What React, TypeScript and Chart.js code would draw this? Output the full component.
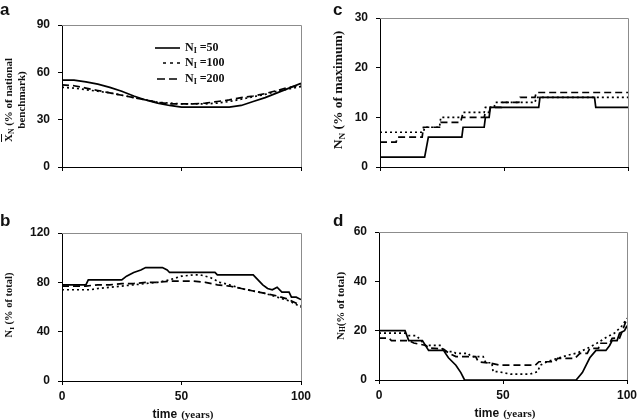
import React, { useEffect, useRef } from "react";
import { Chart, registerables } from "chart.js";
Chart.register(...registerables);

// ---------- shared ----------
const X_TICKS = [0, 50, 100];
const LEGEND_LABELS = ["=50", "=100", "=200"];

// ---------- panel a : X_N (% of national benchmark) ----------
const aTime = [0, 5, 10, 15, 20, 25, 30, 35, 40, 45, 50, 55, 60, 65, 70, 75, 80, 85, 90, 95, 100];
const aN50 = [55, 55, 54, 52.5, 50.5, 48, 45, 42.5, 40.5, 39, 38, 38, 38, 38, 38, 39, 41.5, 44, 47, 50, 53];
const aN100 = [50.5, 50, 49, 48, 47, 45.5, 44, 42.5, 41, 40.5, 40, 40, 40, 40.5, 41.5, 43, 44.5, 46, 48, 49.5, 51];
const aN200 = [52, 51.5, 50, 48.5, 47, 45.5, 44, 42.5, 41, 40, 40, 40, 40.5, 41.5, 42.5, 44, 45, 46.5, 48.5, 50.5, 52];

// ---------- panel b : N_I (% of total) ----------
const bN50T = [0, 10, 11, 25, 27, 30, 33, 35, 42, 44, 45, 64, 65, 80, 82, 84, 86, 88, 90, 92, 95, 96, 98, 100];
const bN50 = [78, 78, 82, 82, 85, 88, 90, 92, 92, 90, 88, 88, 86, 86, 82, 78, 75, 74, 76, 72, 72, 68, 68, 66];
const bN100T = [0, 12, 15, 20, 25, 30, 35, 40, 45, 50, 55, 58, 62, 66, 70, 75, 80, 85, 90, 95, 100];
const bN100 = [74, 74, 75, 76, 77, 78, 79, 80, 82, 85, 86, 86, 84, 80, 78, 75, 73, 71, 68, 65, 60];
const bN200T = [0, 10, 15, 20, 25, 30, 35, 40, 45, 50, 55, 60, 65, 70, 75, 80, 85, 90, 95, 100];
const bN200 = [77, 77, 78, 78, 79, 79, 80, 80, 81, 81, 81, 80, 78, 77, 75, 73, 71, 69, 66, 61];

// ---------- panel c : N_N (% of maximum) ----------
const cN50T = [0, 18, 19.5, 33, 33.5, 42, 42.5, 44, 44.5, 64, 64.5, 86.5, 87, 100];
const cN50 = [2, 2, 6, 6, 8, 8, 10, 10, 12, 12, 14, 14, 12, 12];
const cN100T = [0, 17.5, 18, 24, 24.5, 33, 33.5, 42, 42.5, 46, 46.5, 62.5, 63, 100];
const cN100 = [7, 7, 8, 8, 10, 10, 11, 11, 12, 12, 13, 13, 14, 14];
const cN200T = [0, 6.5, 7, 17, 17.5, 24, 24.5, 32.5, 33, 42, 42.5, 44, 44.5, 49, 49.5, 56, 56.5, 62.5, 63, 100];
const cN200 = [5, 5, 6, 6, 8, 8, 9, 9, 10, 10, 11, 11, 12, 12, 13, 13, 14, 14, 15, 15];

// ---------- panel d : N_H (% of total) ----------
const dN50T = [0, 10.5, 12, 17.5, 20, 26, 28, 31, 33, 34.5, 79.5, 82, 85, 87.5, 91.5, 93, 94, 96, 97, 99, 100];
const dN50 = [20, 20, 16, 16, 12, 12, 9, 6, 3, 0, 0, 3, 9, 12, 12, 14, 16, 16, 19, 20, 22];
const dN100T = [0, 10.5, 12, 15, 17, 18.5, 25, 26, 30, 31, 36, 37, 42, 43, 45.5, 46, 48, 53, 61, 64, 65, 68, 72, 76, 80, 84, 88, 92, 95, 98, 100];
const dN100 = [19, 19, 18, 18, 16, 14, 14, 11.5, 11.5, 10.8, 10.8, 9.5, 9.5, 7, 7, 3.4, 3.4, 2.4, 2.4, 3.4, 6, 7.5, 8.8, 10, 11, 12.8, 15, 17.5, 19, 22, 25];
const dN200T = [0, 4, 5, 12, 14, 19, 20, 26, 28, 31, 39, 40, 45, 49, 63, 64.5, 71, 72, 79, 81, 84, 85, 88.5, 89, 93, 94, 97, 98, 100];
const dN200 = [17, 17, 16, 16, 15, 14, 13, 12.5, 11, 9.5, 9.5, 7.4, 6.8, 6, 6, 7.4, 7.4, 8.8, 8.8, 10.8, 10.8, 12.8, 12.8, 14.9, 14.9, 16.9, 17, 19.6, 25];

type Style = "solid" | "dot" | "dash";
type Series = { t: number[]; y: number[]; style: Style };

const DASHES: Record<Style, number[]> = { solid: [], dot: [2, 3], dash: [7, 4] };
const LEGEND_DASHES: Record<Style, number[]> = { solid: [], dot: [3, 4], dash: [8, 4] };
const INK = "#111";
const TICK_FONT = { family: "'Liberation Sans', Arial, sans-serif", size: 12, weight: "bold" as const };

const framePlugin = {
  id: "frame",
  afterDraw(chart: any) {
    const { ctx, chartArea } = chart;
    const { left, top, right, bottom } = chartArea;
    ctx.save();
    ctx.strokeStyle = "#8c8c8c";
    ctx.lineWidth = 1;
    ctx.setLineDash([]);
    ctx.beginPath();
    ctx.moveTo(left, Math.round(top) + 0.5);
    ctx.lineTo(Math.round(right) + 0.5, Math.round(top) + 0.5);
    ctx.lineTo(Math.round(right) + 0.5, bottom);
    ctx.stroke();
    ctx.restore();
  },
};

const legendPlugin = {
  id: "subLegend",
  afterDraw(chart: any) {
    const ctx = chart.ctx;
    const rows: { style: Style; x0: number; y: number }[] = [
      { style: "solid", x0: 155, y: 48 },
      { style: "dot", x0: 163, y: 63 },
      { style: "dash", x0: 157, y: 79 },
    ];
    ctx.save();
    rows.forEach((r, i) => {
      ctx.strokeStyle = "#000";
      ctx.lineWidth = 1.6;
      ctx.setLineDash(LEGEND_DASHES[r.style]);
      ctx.beginPath();
      ctx.moveTo(r.x0, r.y);
      ctx.lineTo(180, r.y);
      ctx.stroke();
      ctx.setLineDash([]);
      ctx.fillStyle = INK;
      ctx.textBaseline = "middle";
      let x = 185;
      ctx.font = "bold 12px 'Liberation Serif', serif";
      ctx.fillText("N", x, r.y);
      x += ctx.measureText("N").width;
      ctx.font = "bold 8px 'Liberation Serif', serif";
      ctx.fillText("I", x, r.y + 3);
      x += ctx.measureText("I").width;
      ctx.font = "bold 12px 'Liberation Serif', serif";
      ctx.fillText(" " + LEGEND_LABELS[i], x, r.y);
    });
    ctx.restore();
  },
};

type PanelProps = {
  box: { left: number; top: number; width: number; height: number };
  area: { left: number; top: number; right: number; bottom: number };
  yMax: number;
  yStep: number;
  showX: boolean;
  series: Series[];
  legend?: boolean;
};

function Panel({ box, area, yMax, yStep, showX, series, legend }: PanelProps) {
  const ref = useRef<HTMLCanvasElement | null>(null);
  useEffect(() => {
    if (!ref.current) return;
    const yW = area.left - box.left;
    const xH = box.top + box.height - area.bottom;
    const padTop = area.top - box.top;
    const padRight = box.left + box.width - area.right;
    const chart = new Chart(ref.current, {
      type: "line",
      data: {
        datasets: series.map((s) => ({
          data: s.t.map((t, i) => ({ x: t, y: s.y[i] })),
          borderColor: "#000",
          borderWidth: 1.7,
          borderDash: DASHES[s.style],
          pointRadius: 0,
          tension: 0,
          fill: false,
        })),
      },
      options: {
        animation: false,
        responsive: false,
        maintainAspectRatio: false,
        layout: { padding: { top: padTop, right: padRight, left: 0, bottom: 0 } },
        plugins: { legend: { display: false }, tooltip: { enabled: false } },
        scales: {
          x: {
            type: "linear",
            min: 0,
            max: 100,
            afterBuildTicks: (s: any) => {
              s.ticks = X_TICKS.map((v) => ({ value: v }));
            },
            ticks: { display: showX, font: TICK_FONT, color: INK, padding: 4, maxRotation: 0 },
            grid: { drawOnChartArea: false, drawTicks: true, tickLength: 4, color: "#000", lineWidth: 1 },
            border: { display: true, color: "#000", width: 1 },
            afterFit: (s: any) => {
              s.height = xH;
              s.paddingLeft = 0;
              s.paddingRight = 0;
            },
          },
          y: {
            type: "linear",
            min: 0,
            max: yMax,
            ticks: { stepSize: yStep, font: TICK_FONT, color: INK, padding: 8 },
            grid: { drawOnChartArea: false, drawTicks: true, tickLength: 4, color: "#000", lineWidth: 1 },
            border: { display: true, color: "#000", width: 1 },
            afterFit: (s: any) => {
              s.width = yW;
              s.paddingTop = 0;
              s.paddingBottom = 0;
            },
          },
        },
      },
      plugins: legend ? [framePlugin, legendPlugin] : [framePlugin],
    } as any);
    return () => chart.destroy();
  }, []);
  return (
    <canvas
      ref={ref}
      width={box.width}
      height={box.height}
      style={{ position: "absolute", left: box.left, top: box.top, width: box.width, height: box.height }}
    />
  );
}

const serif = "'Liberation Serif', 'Times New Roman', serif";
const sans = "'Liberation Sans', Arial, sans-serif";

function YTitle({ cx, cy, size, children }: { cx: number; cy: number; size: number; children: React.ReactNode }) {
  return (
    <div
      style={{
        position: "absolute",
        left: cx,
        top: cy,
        transform: "translate(-50%, -50%) rotate(-90deg)",
        whiteSpace: "nowrap",
        fontFamily: serif,
        fontWeight: "bold",
        fontSize: size,
        lineHeight: `${size + 2}px`,
        color: INK,
        textAlign: "center",
      }}
    >
      {children}
    </div>
  );
}

const Sub = ({ children }: { children: React.ReactNode }) => (
  <sub style={{ fontSize: "0.68em", lineHeight: 0, verticalAlign: "-0.25em" }}>{children}</sub>
);

function XTitle({ cx, cy }: { cx: number; cy: number }) {
  return (
    <div
      style={{
        position: "absolute",
        left: cx,
        top: cy,
        transform: "translate(-50%, -50%)",
        whiteSpace: "nowrap",
        color: INK,
        lineHeight: "14px",
      }}
    >
      <span style={{ fontFamily: sans, fontWeight: "bold", fontSize: 12 }}>time</span>{" "}
      <span style={{ fontFamily: serif, fontWeight: "bold", fontSize: 11 }}>(years)</span>
    </div>
  );
}

function Letter({ x, y, ch }: { x: number; y: number; ch: string }) {
  return (
    <div
      style={{
        position: "absolute",
        left: x,
        top: y,
        fontFamily: sans,
        fontWeight: "bold",
        fontSize: 17,
        lineHeight: "17px",
        color: INK,
      }}
    >
      {ch}
    </div>
  );
}

export default function App() {
  const seriesA: Series[] = [
    { t: aTime, y: aN50, style: "solid" },
    { t: aTime, y: aN100, style: "dot" },
    { t: aTime, y: aN200, style: "dash" },
  ];
  const seriesB: Series[] = [
    { t: bN50T, y: bN50, style: "solid" },
    { t: bN100T, y: bN100, style: "dot" },
    { t: bN200T, y: bN200, style: "dash" },
  ];
  const seriesC: Series[] = [
    { t: cN50T, y: cN50, style: "solid" },
    { t: cN100T, y: cN100, style: "dot" },
    { t: cN200T, y: cN200, style: "dash" },
  ];
  const seriesD: Series[] = [
    { t: dN50T, y: dN50, style: "solid" },
    { t: dN100T, y: dN100, style: "dot" },
    { t: dN200T, y: dN200, style: "dash" },
  ];
  return (
    <div style={{ position: "fixed", left: 0, top: 0, width: 638, height: 420, background: "#fff", overflow: "hidden" }}>
      <Panel
        box={{ left: 0, top: 0, width: 319, height: 200 }}
        area={{ left: 62, top: 25, right: 301, bottom: 167 }}
        yMax={90}
        yStep={30}
        showX={false}
        series={seriesA}
        legend
      />
      <Panel
        box={{ left: 319, top: 0, width: 319, height: 200 }}
        area={{ left: 380, top: 18, right: 628, bottom: 167 }}
        yMax={30}
        yStep={10}
        showX={false}
        series={seriesC}
      />
      <Panel
        box={{ left: 0, top: 200, width: 319, height: 220 }}
        area={{ left: 62, top: 233, right: 301, bottom: 381 }}
        yMax={120}
        yStep={40}
        showX={true}
        series={seriesB}
      />
      <Panel
        box={{ left: 319, top: 200, width: 319, height: 220 }}
        area={{ left: 379, top: 232, right: 627, bottom: 380 }}
        yMax={60}
        yStep={20}
        showX={true}
        series={seriesD}
      />

      <Letter x={0} y={1} ch="a" />
      <Letter x={333} y={1} ch="c" />
      <Letter x={0} y={212} ch="b" />
      <Letter x={333} y={212} ch="d" />

      <YTitle cx={15} cy={100} size={11}>
        <span style={{ textDecoration: "overline" }}>X</span>
        <Sub>N</Sub> (% of national
        <br />
        benchmark)
      </YTitle>
      <YTitle cx={338} cy={90} size={13.5}>
        N<Sub>N</Sub> (% of maximum)
      </YTitle>
      <YTitle cx={9} cy={305} size={10.5}>
        N<Sub>I</Sub> (% of total)
      </YTitle>
      <YTitle cx={340} cy={306} size={11}>
        N<Sub>H</Sub>(% of total)
      </YTitle>

      <XTitle cx={183} cy={413} />
      <XTitle cx={505} cy={412} />
    </div>
  );
}
